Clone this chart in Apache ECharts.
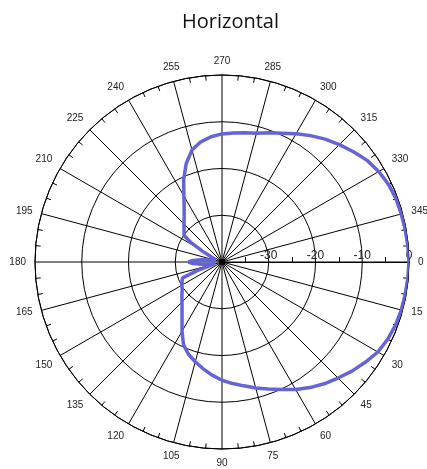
<!DOCTYPE html>
<html>
<head>
<meta charset="utf-8">
<script src="https://cdn.jsdelivr.net/npm/echarts@6/dist/echarts.min.js"></script>
<style>
html, body { margin: 0; padding: 0; background: #fff; }
#main { width: 427px; height: 469px; }
</style>
</head>
<body>
<div id="main"></div>
<script>
// angle in degrees (0 = right, clockwise), level in dB
var angles = [0, 5, 10, 15, 20, 25, 30, 35, 40, 45, 50, 55, 60, 65, 70, 75, 80, 85, 90,
  95, 100, 105, 110, 115, 120, 125, 130, 135, 140, 145, 150, 155,
  158, 161, 164, 167, 170, 174, 177, 180, 183, 186, 190, 195, 200, 205, 209, 212,
  215, 220, 225, 230, 235, 240, 245, 250, 255, 260, 265, 270,
  275, 280, 285, 290, 295, 300, 305, 310, 315, 320, 325, 330, 335, 340, 345, 350, 355, 360];
var levels = [0, -0.1, -0.2, -0.3, -0.5, -0.9, -1.5, -2.6, -3.7, -4.9, -6.0, -7.2, -8.5, -9.9, -11.1, -12.1, -13.1, -13.9, -14.7,
  -15.7, -16.8, -17.9, -19.0, -20.5, -22.9, -25.1, -26.7, -27.9, -28.8, -29.6, -30.1, -30.6,
  -30.9, -34.5, -37.8, -38.5, -37.5, -35.5, -33.8, -32.8, -33.8, -35.5, -37.5, -38.5, -38.4, -37.6, -35.2, -32.2,
  -30.1, -29.4, -28.5, -27.4, -25.9, -23.7, -20.6, -17.6, -15.2, -13.9, -13.1, -12.6,
  -12.3, -11.9, -11.5, -10.6, -9.6, -8.3, -7.0, -5.7, -4.5, -3.3, -2.1, -1.3, -0.7, -0.4, -0.3, -0.2, -0.1, 0];
var radiusTicks = [-40, -30, -20, -10, 0];

var seriesData = [];
for (var i = 0; i < angles.length; i++) {
  seriesData.push([levels[i], angles[i]]);
}

var chart = echarts.init(document.getElementById('main'));
var option = {
  backgroundColor: '#fff',
  animation: false,
  title: {
    text: 'Horizontal',
    left: 177,
    top: 7,
    textStyle: { fontFamily: 'Open Sans', fontSize: 20, fontWeight: 'normal', color: '#111' }
  },
  polar: {
    center: [222, 262],
    radius: 187
  },
  angleAxis: {
    type: 'value',
    min: 0,
    max: 360,
    interval: 15,
    startAngle: 0,
    clockwise: true,
    axisLine: { show: true, lineStyle: { color: '#000', width: 1 } },
    axisTick: { show: false, inside: true },
    minorTick: { show: true, splitNumber: 3, length: 5, lineStyle: { color: '#000', width: 1 } },
    axisLabel: {
      margin: 9,
      fontFamily: 'Liberation Sans',
      fontSize: 10,
      color: '#222',
      formatter: function (v) { return v === 360 ? '' : String(v); }
    },
    splitLine: { show: true, lineStyle: { color: '#000', width: 1 } }
  },
  radiusAxis: {
    type: 'value',
    min: radiusTicks[0],
    max: radiusTicks[radiusTicks.length - 1],
    interval: 10,
    axisLine: { show: true, lineStyle: { color: '#000', width: 1 } },
    axisTick: { show: false, inside: true },
    minorTick: { show: true, splitNumber: 2, length: 5, lineStyle: { color: '#000', width: 1 } },
    axisLabel: {
      margin: 0,
      fontFamily: 'Liberation Sans',
      fontSize: 12,
      color: '#222',
      showMinLabel: false,
      formatter: function (v) { return String(v); }
    },
    splitLine: { show: true, lineStyle: { color: '#000', width: 1 } }
  },
  series: [{
    type: 'line',
    coordinateSystem: 'polar',
    data: seriesData,
    showSymbol: false,
    lineStyle: { color: '#6464d8', width: 3.5 },
    z: 10
  }]
};
chart.setOption(option);
</script>
</body>
</html>
